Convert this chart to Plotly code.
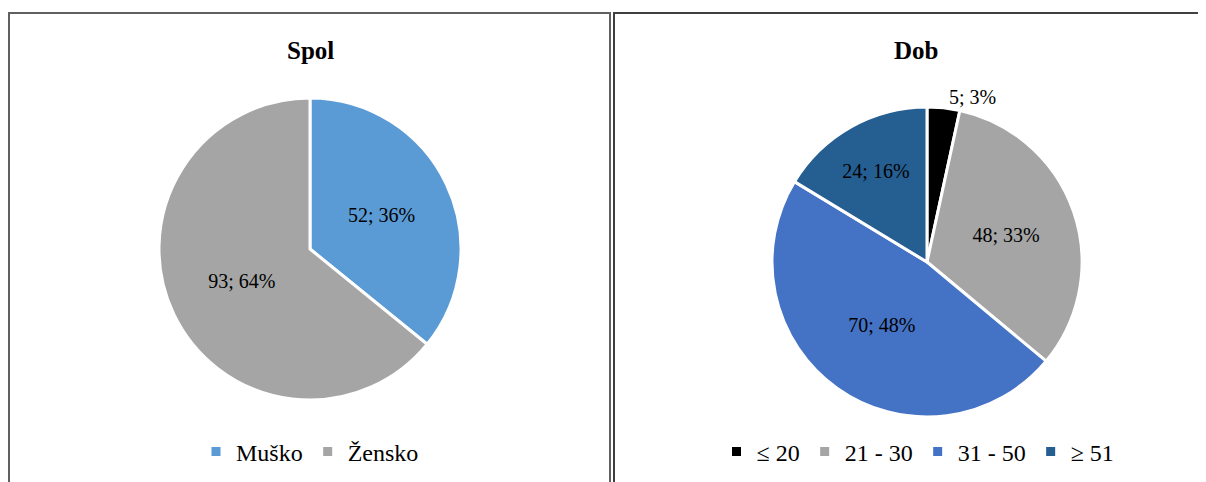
import plotly.graph_objects as go

W, H = 1206, 482
OFF = 8  # page body margin

spol_labels = ["Muško", "Žensko"]
spol_values = [52, 93]
spol_colors = ["#5B9BD5", "#A5A5A5"]

dob_labels = ["≤ 20", "21 - 30", "31 - 50", "≥ 51"]
dob_values = [5, 48, 70, 24]
dob_colors = ["#000000", "#A5A5A5", "#4472C4", "#255E91"]


def px_x(x):
    return (x - OFF) / W


def px_y(y):
    return 1 - (y - OFF) / H


FONT = "Liberation Serif, Times New Roman, serif"

fig = go.Figure()

fig.add_trace(go.Pie(
    labels=spol_labels,
    values=spol_values,
    marker=dict(colors=spol_colors, line=dict(color="white", width=3)),
    sort=False,
    direction="clockwise",
    rotation=0,
    texttemplate="%{value}; %{percent:.0%}",
    textposition="inside",
    insidetextorientation="horizontal",
    textfont=dict(family=FONT, size=20, color="black"),
    hoverinfo="label+value+percent",
    domain=dict(x=[px_x(159), px_x(461)], y=[px_y(400), px_y(98)]),
    legend="legend",
))

fig.add_trace(go.Pie(
    labels=dob_labels,
    values=dob_values,
    marker=dict(colors=dob_colors, line=dict(color="white", width=3)),
    sort=False,
    direction="clockwise",
    rotation=0,
    texttemplate="%{value}; %{percent:.0%}",
    textposition=["outside", "inside", "inside", "inside"],
    insidetextorientation="horizontal",
    textfont=dict(family=FONT, size=20, color="black"),
    hoverinfo="label+value+percent",
    domain=dict(x=[px_x(772), px_x(1082)], y=[px_y(417), px_y(107)]),
    legend="legend2",
))

fig.update_layout(
    width=W,
    height=H,
    margin=dict(l=0, r=0, t=0, b=0),
    paper_bgcolor="white",
    plot_bgcolor="white",
    font=dict(family=FONT, size=20, color="black"),
    legend=dict(
        orientation="h", x=px_x(310), xanchor="center", y=px_y(452), yanchor="middle",
        font=dict(family=FONT, size=24, color="black"), itemwidth=30,
    ),
    legend2=dict(
        orientation="h", x=px_x(918), xanchor="center", y=px_y(452), yanchor="middle",
        font=dict(family=FONT, size=24, color="black"), itemwidth=30,
    ),
    annotations=[
        dict(text="<b>Spol</b>", x=px_x(310), y=px_y(50), xref="paper", yref="paper",
             xanchor="center", yanchor="middle", showarrow=False,
             font=dict(family=FONT, size=25, color="black")),
        dict(text="<b>Dob</b>", x=px_x(916), y=px_y(50), xref="paper", yref="paper",
             xanchor="center", yanchor="middle", showarrow=False,
             font=dict(family=FONT, size=25, color="black")),
    ],
    shapes=[
        dict(type="rect", xref="paper", yref="paper",
             x0=px_x(9), x1=px_x(610), y0=-0.1, y1=px_y(13),
             line=dict(color="#606060", width=2)),
        dict(type="rect", xref="paper", yref="paper",
             x0=px_x(614), x1=1.05, y0=-0.1, y1=px_y(13),
             line=dict(color="#404040", width=2)),
    ],
)

fig.write_html("out.html")
